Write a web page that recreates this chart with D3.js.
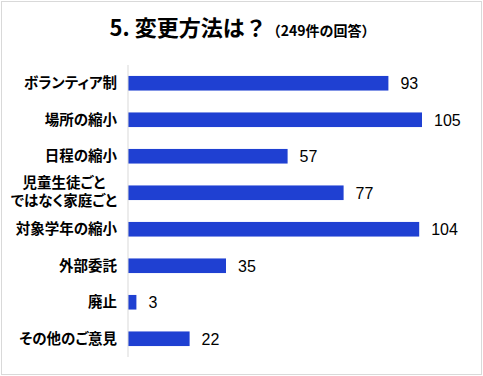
<!DOCTYPE html>
<html>
<head>
<meta charset="utf-8">
<script src="https://cdn.jsdelivr.net/npm/d3@7"></script>
<style>
  body { margin: 0; background: #fff; }
  .cat { font-feature-settings: "palt"; }
</style>
</head>
<body>
<div id="chart"></div>
<script>
// chart data
const categories = [
    ["ボランティア制"],
    ["場所の縮小"],
    ["日程の縮小"],
    ["児童生徒ごと", "ではなく家庭ごと"],
    ["対象学年の縮小"],
    ["外部委託"],
    ["廃止"],
    ["その他のご意見"]
];
const values = [93, 105, 57, 77, 104, 35, 3, 22];
const titleMain = "5. 変更方法は？";
const titleSub = "（249件の回答）";

const width = 483, height = 376;
const barColor = "#1f40d2";
const jpFont = "'Noto Sans CJK JP', 'Noto Sans', sans-serif";
const numFont = "'Liberation Sans', Arial, sans-serif";

const svg = d3.select("#chart")
    .append("svg")
    .attr("width", width)
    .attr("height", height);

// outer frame
svg.append("rect")
    .attr("x", 1.5).attr("y", 1.5)
    .attr("width", width - 3).attr("height", height - 3)
    .attr("fill", "#fff")
    .attr("stroke", "#d9d9d9");

// title
const title = svg.append("text")
    .attr("x", width / 2 + 1)
    .attr("y", 36)
    .attr("text-anchor", "middle")
    .attr("font-family", jpFont)
    .attr("fill", "#000");
title.append("tspan")
    .attr("font-size", "22px")
    .attr("font-weight", 700)
    .text(titleMain);
title.append("tspan")
    .attr("font-size", "14px")
    .attr("font-weight", 700)
    .text(titleSub);

const x0 = 128;
const x = d3.scaleLinear().domain([0, 120]).range([x0, x0 + 336]);
const keys = d3.range(values.length);
const y = d3.scaleBand()
    .domain(keys)
    .range([65, 357])
    .paddingInner(0.6)
    .paddingOuter(0.3);

// bars
svg.selectAll("rect.bar")
    .data(keys)
    .join("rect")
    .attr("class", "bar")
    .attr("x", x(0))
    .attr("y", i => y(i))
    .attr("width", i => x(values[i]) - x(0))
    .attr("height", y.bandwidth())
    .attr("fill", barColor);

// value labels
svg.selectAll("text.val")
    .data(keys)
    .join("text")
    .attr("class", "val")
    .attr("x", i => x(values[i]) + 12)
    .attr("y", i => y(i) + y.bandwidth() / 2)
    .attr("dy", "0.36em")
    .attr("font-family", numFont)
    .attr("font-size", "16px")
    .attr("fill", "#000")
    .text(i => values[i]);

// category labels
const labelRight = 117;
const lineH = 18;
const labels = svg.selectAll("text.cat")
    .data(keys)
    .join("text")
    .attr("class", "cat")
    .attr("font-family", jpFont)
    .attr("font-size", "14.5px")
    .attr("font-weight", 700)
    .attr("fill", "#000");

labels.each(function (i) {
    const lines = categories[i];
    const t = d3.select(this);
    const cy = y(i) + y.bandwidth() / 2;
    if (lines.length === 1) {
        t.attr("x", labelRight).attr("y", cy).attr("dy", "0.36em")
            .attr("text-anchor", "end")
            .text(lines[0]);
    } else {
        // multi-line: lines centred on each other, block right-aligned
        const spans = t.selectAll("tspan").data(lines).join("tspan").text(d => d);
        let maxW = 0;
        spans.each(function () { maxW = Math.max(maxW, this.getComputedTextLength()); });
        const cx = labelRight - maxW / 2;
        spans.attr("x", cx)
            .attr("y", (d, k) => cy - 1 + (k - (lines.length - 1) / 2) * lineH)
            .attr("dy", "0.36em")
            .attr("text-anchor", "middle");
    }
});

// axis line
svg.append("line")
    .attr("x1", x0).attr("x2", x0)
    .attr("y1", 65).attr("y2", 357)
    .attr("stroke", "#d9d9d9")
    .attr("stroke-width", 1);
</script>
</body>
</html>
